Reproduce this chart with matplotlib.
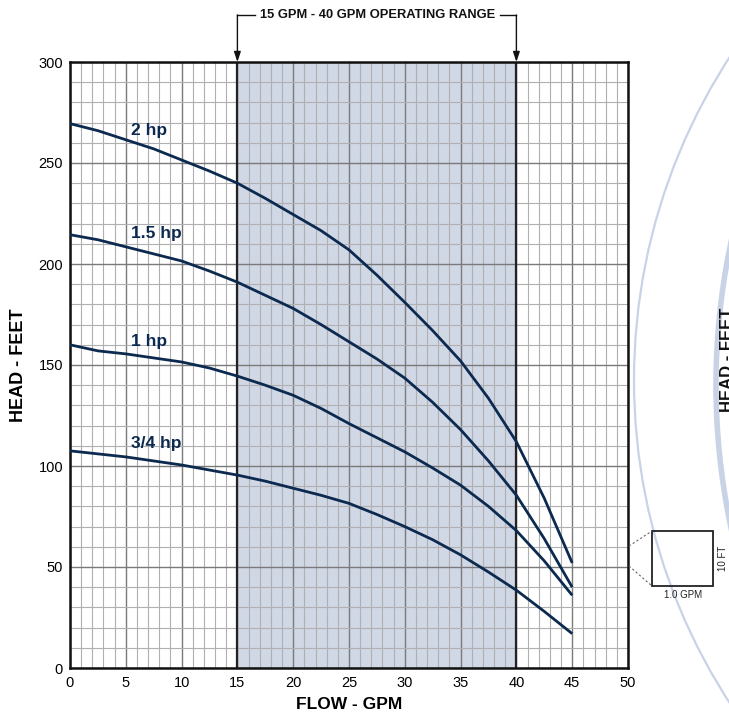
import matplotlib
matplotlib.use("Agg")
import matplotlib.pyplot as plt
import matplotlib.patches as mpatches
from matplotlib.ticker import MultipleLocator

plt.rcParams['font.family'] = ['Liberation Sans', 'DejaVu Sans']

# datos
flujo = [0, 2.5, 5, 7.5, 10, 12.5, 15, 17.5, 20, 22.5, 25,
         27.5, 30, 32.5, 35, 37.5, 40, 42.5, 45]
curvas = {
    "2 hp":   [269.5, 266, 261.5, 257, 251.5, 246, 240, 232.5, 224.5, 216.5, 207,
               194.5, 181, 167, 152, 133.5, 112, 84, 52],
    "1.5 hp": [214.5, 212, 208.5, 205, 201.5, 196.5, 191, 184.5, 178, 170, 161.5,
               153, 143.5, 131.5, 118, 102.5, 85.5, 64, 40],
    "1 hp":   [160, 157, 155.5, 153.5, 151.5, 148.5, 144.5, 140, 135, 128.5, 121,
               114, 107, 99, 90.5, 80, 68, 53, 36],
    "3/4 hp": [107.5, 106, 104.5, 102.5, 100.5, 98, 95.5, 92.5, 89, 85.5, 81.5,
               76, 70, 63.5, 56, 47.5, 38.5, 28, 17],
}
etiquetas_y = [266, 215, 161.5, 111]
rango = (15, 40)
xticks = [0, 5, 10, 15, 20, 25, 30, 35, 40, 45, 50]
yticks = [0, 50, 100, 150, 200, 250, 300]

azul = '#0c2a4f'

fig = plt.figure(figsize=(7.29, 7.18), dpi=100)
ax = fig.add_axes([70/729, 50/718, 558/729, 606/718])

ax.axvspan(rango[0], rango[1], color='#d0d7e5', zorder=0, lw=0)
for xv in rango:
    ax.axvline(xv, color='#222222', lw=1.6, zorder=3)

ax.set_xlim(0, 50)
ax.set_ylim(0, 300)
ax.set_xticks(xticks)
ax.set_yticks(yticks)
ax.xaxis.set_minor_locator(MultipleLocator(1))
ax.yaxis.set_minor_locator(MultipleLocator(10))
ax.set_axisbelow(True)
ax.grid(which='minor', color='#b0b0b0', lw=0.8)
ax.grid(which='major', color='#7a7a7a', lw=1.0)
ax.tick_params(which='both', length=0, labelsize=10.5)
ax.tick_params(axis='x', pad=6)
ax.tick_params(axis='y', pad=5)
for s in ax.spines.values():
    s.set_linewidth(1.8)
    s.set_color('#111111')
    s.set_zorder(4)

for (nombre, valores), ye in zip(curvas.items(), etiquetas_y):
    ax.plot(flujo, valores, color=azul, lw=2.0, zorder=5, solid_capstyle='butt')
    ax.text(5.5, ye, nombre, color=azul, fontsize=12.5, fontweight='bold',
            ha='left', va='center', zorder=6)

ax.set_xlabel('FLOW - GPM', fontsize=12.5, fontweight='bold', labelpad=5)
ax.set_ylabel('HEAD - FEET', fontsize=13, fontweight='bold', labelpad=8)

# corchete del rango de operacion
tr = ax.get_xaxis_transform()
ytop = 1.0776
for x0, x1 in [(rango[0], 16.6), (38.5, rango[1])]:
    ax.plot([x0, x1], [ytop, ytop], color='#111111', lw=1.0, transform=tr, clip_on=False)
for xv in rango:
    ax.annotate('', xy=(xv, 1.0), xytext=(xv, ytop), xycoords=tr, textcoords=tr,
                arrowprops=dict(arrowstyle='-|>,head_length=0.6,head_width=0.2',
                                color='#111111', lw=1.0, shrinkA=0, shrinkB=0))
ax.text(27.6, ytop, '15 GPM - 40 GPM OPERATING RANGE', transform=tr,
        fontsize=9.3, fontweight='bold', ha='center', va='center', color='#111111')

# decoracion a la derecha (coordenadas en pixeles)
deco = fig.add_axes([0, 0, 1, 1], facecolor='none')
deco.set_xlim(0, 729)
deco.set_ylim(718, 0)
deco.axis('off')
deco.add_patch(mpatches.Circle((1227, 380), 593, fill=False, ec='#c8d3e6', lw=1.6))
deco.add_patch(mpatches.Circle((1403, 385), 687, fill=False, ec='#c8d3e6', lw=4.0))
deco.add_patch(mpatches.Rectangle((652, 531), 61, 55, fill=False, ec='#222222', lw=1.3))
deco.plot([629, 652], [546, 531], ls=(0, (2, 2)), color='#666666', lw=0.8)
deco.plot([629, 652], [566, 586], ls=(0, (2, 2)), color='#666666', lw=0.8)
deco.text(683, 595, '1.0 GPM', fontsize=7, ha='center', va='center', color='#222222')
deco.text(723, 558, '10 FT', fontsize=7, rotation=90, ha='center', va='center', color='#222222')
deco.text(728, 360, 'HEAD - FEET', fontsize=12, fontweight='bold', rotation=90,
          ha='center', va='center', color='#111111')

plt.savefig("out.png", dpi=100)
